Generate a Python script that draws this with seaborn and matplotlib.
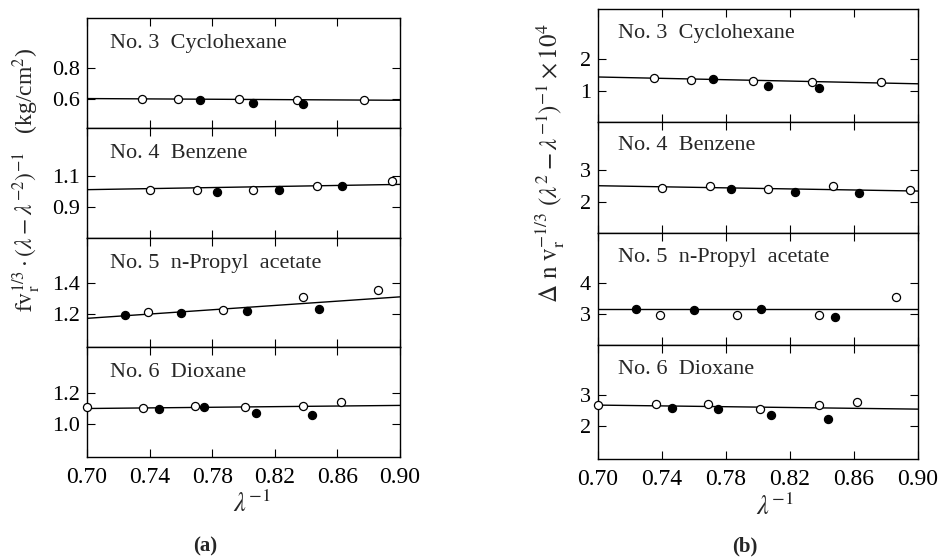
import matplotlib
matplotlib.use("Agg")
import matplotlib.pyplot as plt
import numpy as np
import pandas as pd
import seaborn as sns

sns.set_theme(style="ticks")
plt.rcParams['font.family'] = ['Liberation Serif', 'DejaVu Serif']
plt.rcParams['mathtext.fontset'] = 'stix'

# --- data ---
solvents = ['No. 3  Cyclohexane', 'No. 4  Benzene',
            'No. 5  n-Propyl  acetate', 'No. 6  Dioxane']

# lambda^-1 values, filled flag (1 = filled circle), (a) and (b) ordinates
cyc_x = [0.735, 0.758, 0.772, 0.797, 0.806, 0.834, 0.838, 0.877]
cyc_filled = [0, 0, 1, 0, 1, 0, 1, 0]
cyc_fv = [0.596, 0.598, 0.589, 0.598, 0.572, 0.589, 0.568, 0.589]
cyc_dn = [1.41, 1.35, 1.37, 1.30, 1.155, 1.28, 1.09, 1.27]

ben_x = [0.740, 0.770, 0.783, 0.806, 0.823, 0.847, 0.863, 0.895]
ben_filled = [0, 0, 1, 0, 1, 0, 1, 0]
ben_fv = [1.012, 1.012, 0.995, 1.008, 1.012, 1.035, 1.033, 1.068]
ben_dn = [2.43, 2.52, 2.40, 2.41, 2.33, 2.51, 2.28, 2.38]

pro_x = [0.724, 0.739, 0.760, 0.787, 0.802, 0.838, 0.848, 0.886]
pro_filled = [1, 0, 1, 0, 1, 0, 1, 0]
pro_fv = [1.196, 1.215, 1.209, 1.226, 1.219, 1.310, 1.232, 1.357]
pro_dn = [3.16, 2.98, 3.14, 2.98, 3.15, 2.98, 2.91, 3.54]

dio_x = [0.700, 0.736, 0.746, 0.769, 0.775, 0.801, 0.808, 0.838, 0.844, 0.862]
dio_filled = [0, 0, 1, 0, 1, 0, 1, 0, 1, 0]
dio_fv = [1.110, 1.108, 1.099, 1.118, 1.112, 1.112, 1.075, 1.120, 1.060, 1.142]
dio_dn = [2.68, 2.72, 2.61, 2.73, 2.56, 2.57, 2.38, 2.69, 2.24, 2.78]

# straight lines drawn through the points (value at lambda^-1 = 0.70 and 0.90)
line_x = [0.70, 0.90]
fv_line = [(0.600, 0.589), (1.012, 1.046), (1.174, 1.312), (1.103, 1.123)]
dn_line = [(1.43, 1.22), (2.515, 2.35), (3.16, 3.16), (2.69, 2.56)]

fv_ylim = [(0.41, 1.12), (0.70, 1.41), (0.99, 1.69), (0.79, 1.50)]
fv_ticks = [(0.6, 0.8), (0.9, 1.1), (1.2, 1.4), (1.0, 1.2)]
dn_ylim = [(0.04, 3.53), (1.05, 4.49), (2.01, 5.58), (0.95, 4.63)]
dn_ticks = [(1, 2), (2, 3), (3, 4), (2, 3)]

x_ticks = [0.70, 0.74, 0.78, 0.82, 0.86, 0.90]

frames = []
for name, x, f, fv, dn in [(solvents[0], cyc_x, cyc_filled, cyc_fv, cyc_dn),
                           (solvents[1], ben_x, ben_filled, ben_fv, ben_dn),
                           (solvents[2], pro_x, pro_filled, pro_fv, pro_dn),
                           (solvents[3], dio_x, dio_filled, dio_fv, dio_dn)]:
    frames.append(pd.DataFrame({'solvent': name, 'x': x, 'filled': f, 'fv': fv, 'dn': dn}))
df = pd.concat(frames, ignore_index=True)

W, H = 942, 559
fig = plt.figure(figsize=(W / 100, H / 100), dpi=100)

# panel boxes in pixels (left, right, list of tops/bottoms)
left_box = (87, 400, [18, 128, 238, 347, 457])
right_box = (598, 918, [9, 122, 233, 345, 459])


def draw_column(box, col, lines, ylims, yticks, fmt, txt_pos):
    x0, x1, ys = box
    for i, name in enumerate(solvents):
        ax = fig.add_axes([x0 / W, 1 - ys[i + 1] / H, (x1 - x0) / W, (ys[i + 1] - ys[i]) / H])
        sub = df[df.solvent == name]
        sns.lineplot(x=line_x, y=list(lines[i]), ax=ax, color='black', lw=1.0)
        sns.scatterplot(data=sub[sub.filled == 0], x='x', y=col, ax=ax, marker='o', s=34,
                        color='white', edgecolor='black', linewidth=0.9, legend=False,
                        clip_on=False, zorder=3)
        sns.scatterplot(data=sub[sub.filled == 1], x='x', y=col, ax=ax, marker='o', s=34,
                        color='black', edgecolor='black', linewidth=0.9, legend=False,
                        clip_on=False, zorder=3)
        ax.set(xlabel='', ylabel='')
        ax.set_xlim(0.70, 0.90)
        ax.set_ylim(*ylims[i])
        ax.set_yticks(list(yticks[i]))
        ax.set_yticklabels([fmt.format(v) for v in yticks[i]], fontsize=16)
        ax.set_xticks(x_ticks)
        if i == 3:
            ax.set_xticklabels(['%.2f' % v for v in x_ticks], fontsize=17)
        else:
            ax.set_xticklabels([])
        ax.tick_params(direction='in', top=True, right=True, length=6, width=0.8,
                       colors='black', pad=5)
        ax.tick_params(axis='x', pad=7)
        for s in ax.spines.values():
            s.set_color('black')
            s.set_linewidth(1.0)
        ax.text(txt_pos[0], txt_pos[1], name, transform=ax.transAxes,
                fontsize=16, va='center', ha='left')


draw_column(left_box, 'fv', fv_line, fv_ylim, fv_ticks, '{:.1f}', (0.073, 0.77))
draw_column(right_box, 'dn', dn_line, dn_ylim, dn_ticks, '{:.0f}', (0.063, 0.785))

fig.text(27 / W, 1 - 180 / H,
         r'$\mathrm{fv_r^{1/3}}\cdot(\lambda-\lambda^{-2})^{-1}$   (kg/cm$^2$)',
         rotation=90, ha='center', va='center', fontsize=17)
fig.text(550 / W, 1 - 163 / H,
         r'$\Delta\ \mathrm{n\ v_r^{-1/3}}\ (\lambda^2-\lambda^{-1})^{-1}\times10^4$',
         rotation=90, ha='center', va='center', fontsize=18)

fig.text(252 / W, 1 - 504 / H, r'$\lambda^{-1}$', ha='center', va='center', fontsize=19)
fig.text(775 / W, 1 - 507 / H, r'$\lambda^{-1}$', ha='center', va='center', fontsize=19)
fig.text(205 / W, 1 - 546 / H, '(a)', ha='center', va='center', fontsize=15, fontweight='bold')
fig.text(745 / W, 1 - 546 / H, '(b)', ha='center', va='center', fontsize=15, fontweight='bold')

fig.savefig('out.png', dpi=100)
